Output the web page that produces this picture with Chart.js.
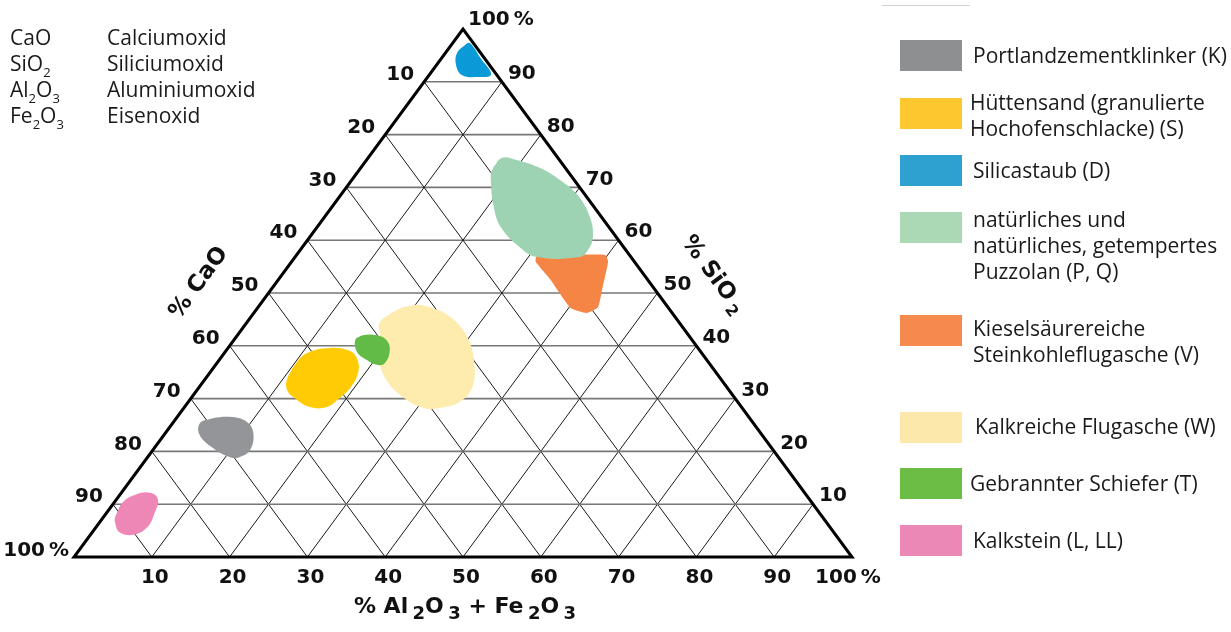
<!DOCTYPE html>
<html>
<head>
<meta charset="utf-8">
<script src="https://cdn.jsdelivr.net/npm/chart.js@4.4.1/dist/chart.umd.min.js"></script>
<style>
  html, body { margin: 0; padding: 0; background: #fff; }
  #wrap { position: relative; width: 1231px; height: 632px; overflow: hidden; }
  #ternary { position: absolute; left: 0; top: 0; }
  .txt { font-family: 'Open Sans', 'Noto Sans', sans-serif; font-size: 21px; color: #1a1a1a; position: absolute; white-space: pre-line; line-height: 26px; }
  .txt sub { font-size: 13px; vertical-align: baseline; position: relative; top: 6px; line-height: 0; }
  .sw { position: absolute; left: 900px; width: 62px; height: 31px; }
  #rule { position: absolute; left: 882px; top: 5px; width: 88px; height: 1px; background: #d0d0d0; }
</style>
</head>
<body>
<div id="wrap">
  <canvas id="ternary" width="1231" height="632"></canvas>
  <div id="rule"></div>
  <div id="key"></div>
  <div id="legend"></div>
</div>
<script>
// ticks along each side of the triangle
const caoTicks = [10, 20, 30, 40, 50, 60, 70, 80, 90];
const sio2Ticks = [10, 20, 30, 40, 50, 60, 70, 80, 90];
const alFeTicks = [10, 20, 30, 40, 50, 60, 70, 80, 90];
const gridSteps = [10, 20, 30, 40, 50, 60, 70, 80, 90];

// oxide key, top left
const oxideFormulas = ['CaO', 'SiO<sub>2</sub>', 'Al<sub>2</sub>O<sub>3</sub>', 'Fe<sub>2</sub>O<sub>3</sub>'];
const oxideNames = ['Calciumoxid', 'Siliciumoxid', 'Aluminiumoxid', 'Eisenoxid'];

const materials = [
  'Portlandzementklinker (K)',
  'Hüttensand (granulierte\nHochofenschlacke) (S)',
  'Silicastaub (D)',
  'natürliches und\nnatürliches, getempertes\nPuzzolan (P, Q)',
  'Kieselsäurereiche\nSteinkohleflugasche (V)',
  'Kalkreiche Flugasche (W)',
  'Gebrannter Schiefer (T)',
  'Kalkstein (L, LL)'
];

// outlines of each field as [% Al2O3+Fe2O3, % SiO2]
const klinkerK = [[3.5,25.4],[4.7,26.3],[7.1,26.5],[9.4,25.6],[11.3,23.5],[12.5,20.3],[11.8,18.9],[10.6,18.9],[7.6,20.6],[4.6,23.1]];
const huettensandS = [[10.6,33.5],[10.2,36.4],[10.6,38.6],[13.1,39.6],[16.0,39.0],[17.8,37.3],[19.1,34.8],[19.5,32.0],[19.1,30.1],[18.3,28.4],[16.1,28.4],[13.3,30.1],[11.6,31.6]];
const silicastaubD = [[1.9,97.3],[1.5,95.5],[2.5,93.2],[4.2,91.3],[6.4,90.9],[7.9,91.4],[5.0,94.5],[2.4,97.2]];
const puzzolanPQ = [[17.1,73.3],[17.2,75.6],[19.3,75.2],[22.6,73.9],[26.2,71.8],[30.4,68.6],[34.1,64.4],[36.4,60.6],[37.0,58.1],[36.6,56.8],[31.1,56.8],[27.9,58.7],[23.6,62.5],[20.8,66.3],[18.2,70.8]];
const flugascheV = [[30.9,57.2],[35.3,57.2],[39.7,57.2],[40.7,55.9],[42.4,51.1],[43.7,47.3],[42.8,46.2],[40.2,47.2],[35.0,52.5],[31.4,55.9]];
const flugascheW = [[17.1,44.3],[17.8,46.4],[19.7,47.7],[22.1,47.3],[25.6,45.5],[29.7,41.7],[33.1,36.7],[35.1,32.2],[34.9,29.4],[32.9,28.2],[30.8,28.2],[27.1,30.3],[23.4,33.5],[20.2,37.9],[18.5,41.7]];
const schieferT = [[15.6,41.1],[16.1,42.0],[17.9,42.0],[19.6,41.1],[21.0,39.2],[21.6,36.7],[20.7,36.4],[19.0,37.3],[17.0,38.8]];
const kalksteinL = [[1.5,7.6],[1.1,10.4],[2.1,11.9],[3.9,12.1],[5.4,10.8],[6.2,8.3],[6.6,5.7],[5.5,4.2],[3.5,4.7],[2.1,6.4]];

const fields = [klinkerK, huettensandS, silicastaubD, puzzolanPQ, flugascheV, flugascheW, schieferT, kalksteinL];
const fieldColors = ['#939598', '#ffcb05', '#0a9ad8', '#9dd3b2', '#f58544', '#feebae', '#62bb47', '#ef87b6'];
const swatchColors = ['#8d8f90', '#fdc82f', '#2ea1d0', '#acd9b5', '#f48a4d', '#fde8ab', '#6bbd45', '#eb88b5'];
const fieldTension = [0.4, 0.4, 0.4, 0.4, 0.15, 0.4, 0.4, 0.4];
// schiefer sits on top of the fly ash field
const fieldOrder = [1, 1, 1, 1, 1, 1, 0.5, 1];

// ternary -> plane: x = AlFe + SiO2/2, y = SiO2
function tern(alFe, sio2) {
  return { x: alFe + sio2 / 2, y: sio2 };
}

function closedPath(pts) {
  const out = pts.map(p => tern(p[0], p[1]));
  out.push(out[0], out[1]);
  return out;
}

const datasets = [];

// outline of the triangle
datasets.push({
  data: [tern(0, 0), tern(100, 0), tern(0, 100), tern(0, 0), tern(100, 0)],
  showLine: true, borderColor: '#000', borderWidth: 3, borderJoinStyle: 'miter',
  pointRadius: 0, fill: false, clip: false, order: 0
});

fields.forEach((pts, i) => {
  datasets.push({
    label: materials[i],
    data: closedPath(pts),
    showLine: true, tension: fieldTension[i],
    borderWidth: 0, borderColor: 'rgba(0,0,0,0)',
    backgroundColor: fieldColors[i], fill: 'shape',
    pointRadius: 0, order: fieldOrder[i]
  });
});

gridSteps.forEach(k => {
  // constant SiO2
  datasets.push({ data: [tern(0, k), tern(100 - k, k)], showLine: true, borderColor: '#777', borderWidth: 1.6, pointRadius: 0, fill: false, order: 2 });
  // constant Al2O3 + Fe2O3
  datasets.push({ data: [tern(k, 0), tern(k, 100 - k)], showLine: true, borderColor: '#1a1a1a', borderWidth: 1, pointRadius: 0, fill: false, order: 2 });
  // constant CaO
  datasets.push({ data: [tern(100 - k, 0), tern(0, 100 - k)], showLine: true, borderColor: '#1a1a1a', borderWidth: 1, pointRadius: 0, fill: false, order: 2 });
});

function drawRich(ctx, parts, x, y, big, small) {
  let w = 0;
  parts.forEach(p => {
    ctx.font = 'bold ' + (p.sub ? small : big) + 'px "DejaVu Sans"';
    w += ctx.measureText(p.t).width;
  });
  let cx = x - w / 2;
  parts.forEach(p => {
    ctx.font = 'bold ' + (p.sub ? small : big) + 'px "DejaVu Sans"';
    ctx.fillText(p.t, cx, y + (p.sub ? 7 : 0));
    cx += ctx.measureText(p.t).width;
  });
}

const labelPlugin = {
  id: 'ternaryLabels',
  afterDatasetsDraw(chart) {
    const ctx = chart.ctx;
    const xs = chart.scales.x, ys = chart.scales.y;
    const at = (alFe, sio2) => {
      const p = tern(alFe, sio2);
      return [xs.getPixelForValue(p.x), ys.getPixelForValue(p.y)];
    };
    ctx.save();
    ctx.fillStyle = '#111';
    ctx.textBaseline = 'middle';
    ctx.font = 'bold 20px "DejaVu Sans"';

    // % CaO on the left edge
    ctx.textAlign = 'right';
    caoTicks.forEach(v => {
      const [x, y] = at(0, 100 - v);
      ctx.fillText(String(v), x - 10, y - 7);
    });
    let [bx, by] = at(0, 0);
    ctx.fillText('100\u2009%', bx - 5, by - 6);

    // % SiO2 on the right edge
    ctx.textAlign = 'left';
    sio2Ticks.forEach(v => {
      const [x, y] = at(100 - v, v);
      ctx.fillText(String(v), x + 6, y - 8);
    });
    let [tx, ty] = at(0, 100);
    ctx.fillText('100\u2009%', tx + 5, ty - 9);

    // % Al2O3 + Fe2O3 on the bottom edge
    ctx.textAlign = 'center';
    alFeTicks.forEach(v => {
      const [x, y] = at(v, 0);
      ctx.fillText(String(v), x + 3, y + 21);
    });
    let [rx, ry] = at(100, 0);
    ctx.fillText('100\u2009%', rx - 4, ry + 21);

    // axis titles
    ctx.textAlign = 'left';
    const [lx0, ly0] = at(0, 0);
    const [lx1, ly1] = at(0, 100);
    const ang = Math.atan2(ly1 - ly0, lx1 - lx0);

    ctx.save();
    ctx.translate(199, 283);
    ctx.rotate(ang);
    drawRich(ctx, [{ t: '% CaO' }], 0, 0, 23, 16);
    ctx.restore();

    ctx.save();
    ctx.translate(713, 275);
    ctx.rotate(-ang);
    drawRich(ctx, [{ t: '% SiO\u2009' }, { t: '2', sub: true }], 0, 0, 23, 16);
    ctx.restore();

    drawRich(ctx, [
      { t: '% Al\u2009' }, { t: '2', sub: true }, { t: 'O\u2009' }, { t: '3', sub: true },
      { t: ' + Fe\u2009' }, { t: '2', sub: true }, { t: 'O\u2009' }, { t: '3', sub: true }
    ], 465, 607, 22, 18);
    ctx.restore();
  }
};

new Chart(document.getElementById('ternary').getContext('2d'), {
  type: 'scatter',
  data: { datasets: datasets },
  options: {
    responsive: false,
    animation: false,
    events: [],
    layout: { padding: { left: 74, right: 379, top: 29, bottom: 75 } },
    scales: {
      x: { type: 'linear', min: 0, max: 100, display: false },
      y: { type: 'linear', min: 0, max: 100, display: false }
    },
    plugins: {
      legend: { display: false },
      tooltip: { enabled: false }
    }
  },
  plugins: [labelPlugin]
});

// oxide key
const keyRowTop = [24, 50, 76, 102];
const key = document.getElementById('key');
oxideFormulas.forEach((f, i) => {
  const a = document.createElement('div');
  a.className = 'txt';
  a.style.left = '10px';
  a.style.top = keyRowTop[i] + 'px';
  a.innerHTML = f;
  key.appendChild(a);
  const b = document.createElement('div');
  b.className = 'txt';
  b.style.left = '107px';
  b.style.top = keyRowTop[i] + 'px';
  b.textContent = oxideNames[i];
  key.appendChild(b);
});

// legend
const swatchTop = [40, 98, 155, 212, 315, 412, 468, 525];
const labelTop = [42, 89, 157, 206, 315, 413, 470, 527];
const labelLeft = [973, 970, 973, 973, 973, 975, 970, 973];
const legend = document.getElementById('legend');
materials.forEach((m, i) => {
  const sw = document.createElement('div');
  sw.className = 'sw';
  sw.style.top = swatchTop[i] + 'px';
  sw.style.background = swatchColors[i];
  legend.appendChild(sw);
  const t = document.createElement('div');
  t.className = 'txt';
  t.style.left = labelLeft[i] + 'px';
  t.style.top = labelTop[i] + 'px';
  t.textContent = m;
  legend.appendChild(t);
});
</script>
</body>
</html>
